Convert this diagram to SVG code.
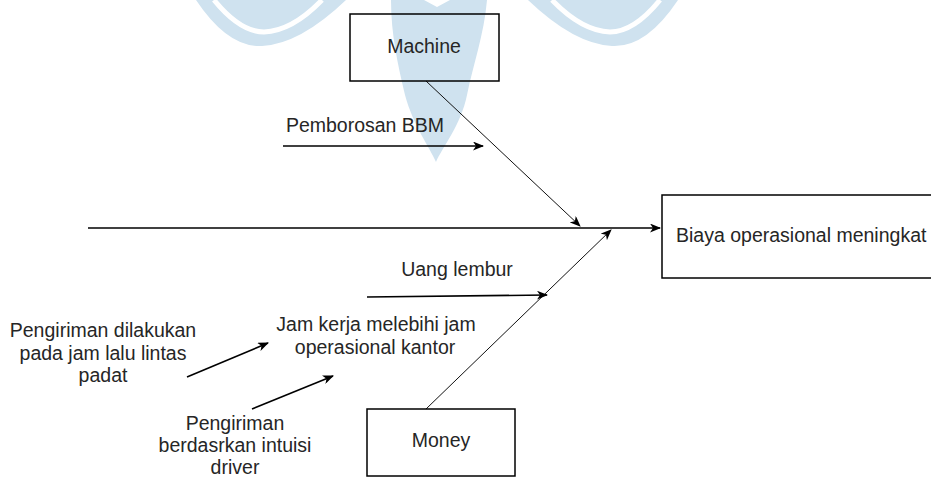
<svg xmlns="http://www.w3.org/2000/svg" width="931" height="479" viewBox="0 0 931 479">
<style>
.bg{fill:#ffffff}
.wm{fill:#cfe2ef}
.wmline{fill:none;stroke:#ffffff;stroke-width:5}
.box{fill:none;stroke:#000000;stroke-width:1.5}
.lbl{font-family:"Liberation Sans",Arial,sans-serif;font-size:19.5px;fill:#262626}
.c{text-anchor:middle}
.thick{fill:none;stroke:#000000;stroke-width:1.6}
.thin{fill:none;stroke:#111111;stroke-width:1}
</style>
<defs>
<marker id="arr" viewBox="0 0 11 9" refX="10" refY="4.5" markerWidth="11" markerHeight="9" markerUnits="userSpaceOnUse" orient="auto">
<path d="M0,0 L11,4.5 L0,9 L3,4.5 Z" fill="#000000"/>
</marker>
</defs>
<rect class="bg" x="0" y="0" width="931" height="479"/>
<g id="watermark">
<path class="wm" d="M196 0 Q228 48 262 46 Q300 44 346 0 Z"/>
<path class="wmline" d="M214 0 Q240 32 264 32 Q292 31 322 0"/>
<path class="wm" d="M678 0 Q646 48 612 46 Q574 44 528 0 Z"/>
<path class="wmline" d="M660 0 Q634 32 610 32 Q582 31 552 0"/>
<path class="wm" d="M391 0 C391 35 398 65 405 95 C413 125 430 148 436 162 C442 148 461 125 467 95 C473 65 484 35 487 0 L450 0 L437 7 L424 0 Z"/>
</g>
<g id="connectors">
<line class="thick" x1="88" y1="228" x2="660" y2="228" marker-end="url(#arr)"/>
<line class="thin" x1="426" y1="81" x2="580" y2="226" marker-end="url(#arr)"/>
<line class="thin" x1="426" y1="409" x2="611" y2="230" marker-end="url(#arr)"/>
<line class="thick" x1="283" y1="146" x2="483" y2="146" marker-end="url(#arr)"/>
<line class="thick" x1="367" y1="297" x2="547" y2="295" marker-end="url(#arr)"/>
<line class="thick" x1="187" y1="377" x2="268" y2="343" marker-end="url(#arr)"/>
<line class="thick" x1="252" y1="409" x2="333" y2="376" marker-end="url(#arr)"/>
</g>
<g id="machine">
<rect class="box" x="350" y="14" width="149" height="67"/>
<text class="lbl c" x="424" y="53">Machine</text>
</g>
<g id="biaya">
<rect class="box" x="662" y="195" width="290" height="83"/>
<text class="lbl" x="676" y="242">Biaya operasional meningkat</text>
</g>
<g id="money">
<rect class="box" x="367" y="409" width="148" height="67"/>
<text class="lbl c" x="441" y="447">Money</text>
</g>
<g id="pemborosan">
<text class="lbl c" x="365" y="132">Pemborosan BBM</text>
</g>
<g id="uang-lembur">
<text class="lbl c" x="457" y="276">Uang lembur</text>
</g>
<g id="jam-kerja">
<text class="lbl c" x="376" y="331">Jam kerja melebihi jam</text>
<text class="lbl c" x="375" y="354">operasional kantor</text>
</g>
<g id="pengiriman-lalu-lintas">
<text class="lbl c" x="103" y="337">Pengiriman dilakukan</text>
<text class="lbl c" x="103" y="359.5">pada jam lalu lintas</text>
<text class="lbl c" x="103" y="382">padat</text>
</g>
<g id="pengiriman-intuisi">
<text class="lbl c" x="235" y="430">Pengiriman</text>
<text class="lbl c" x="235" y="452">berdasrkan intuisi</text>
<text class="lbl c" x="235" y="474">driver</text>
</g>
</svg>
